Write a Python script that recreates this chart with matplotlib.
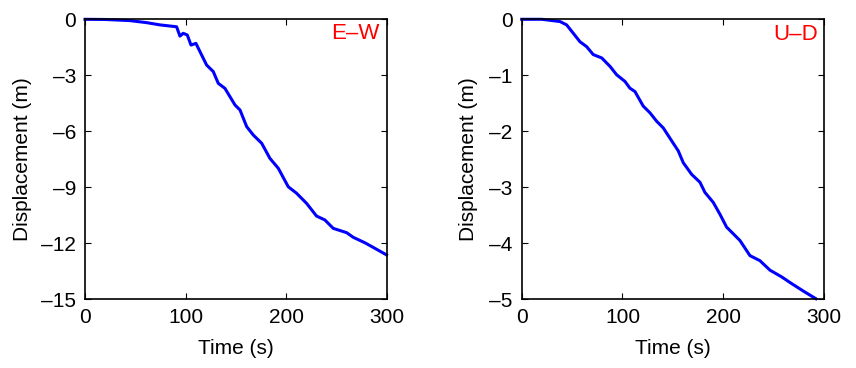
import numpy as np
import matplotlib.pyplot as plt

plt.rcParams['font.family'] = ['Liberation Sans', 'DejaVu Sans']

# E-W displacement (m)
ew_t = [0, 20, 44.7, 61.3, 74.5, 91, 94.3, 97.6, 101.6, 105.3, 110.2, 114.2, 120.8,
        127.4, 132.4, 139, 149, 154, 160.6, 167.2, 175.5, 183.7, 192, 201.9, 210.2,
        220.1, 230, 238.3, 246.6, 259.9, 266.5, 278, 288, 299.5]
ew_d = [0, -0.01, -0.07, -0.18, -0.3, -0.4, -0.9, -0.75, -0.84, -1.38, -1.29, -1.73, -2.45,
        -2.8, -3.43, -3.7, -4.59, -4.86, -5.75, -6.2, -6.64, -7.45, -7.98, -8.97, -9.32,
        -9.86, -10.54, -10.75, -11.2, -11.43, -11.68, -11.97, -12.27, -12.62]

# U-D displacement (m)
ud_t = [0, 20, 38, 44.6, 51.2, 57.8, 64.5, 71, 79.4, 87.6, 94.2, 102.5, 107.4, 112.4,
        120.6, 127.3, 133.9, 140.5, 148.8, 155.4, 160.3, 168.7, 176.9, 181.8, 190.1,
        196.7, 203.3, 216.6, 226.5, 236.4, 246.4, 258, 267.9, 281, 292]
ud_d = [0, 0, -0.04, -0.1, -0.25, -0.4, -0.49, -0.63, -0.69, -0.84, -0.99, -1.11, -1.23, -1.29,
        -1.55, -1.67, -1.82, -1.94, -2.17, -2.35, -2.56, -2.77, -2.91, -3.09, -3.27,
        -3.48, -3.71, -3.95, -4.22, -4.31, -4.48, -4.6, -4.72, -4.87, -4.99]

fig = plt.figure(figsize=(8.56, 3.68), dpi=100)
ax1 = fig.add_axes([85/856, 68.7/368, 302/856, 280/368])
ax2 = fig.add_axes([521.7/856, 68.7/368, 302.3/856, 280/368])

panels = [
    (ax1, ew_t, ew_d, 'E\u2013W', (-15, 0), np.arange(-15, 1, 3), -0.1755, (0.896, 0.95)),
    (ax2, ud_t, ud_d, 'U\u2013D', (-5, 0), np.arange(-5, 1, 1), -0.1446, (0.907, 0.946)),
]

for ax, t, d, name, ylim, yt, ylab_x, txt_xy in panels:
    ax.plot(t, d, color='#0000ff', lw=2.2, clip_on=False)
    ax.set_xlim(0, 300)
    ax.set_ylim(*ylim)
    ax.set_xticks([0, 100, 200, 300])
    ax.set_yticks(yt)
    ax.set_yticklabels([str(v).replace('-', '\u2013') for v in yt])
    ax.tick_params(direction='in', length=4, width=0.8, top=True, right=True,
                   labelsize=15, pad=6.5)
    for s in ax.spines.values():
        s.set_linewidth(1.2)
    ax.set_xlabel('Time (s)', fontsize=15)
    ax.xaxis.set_label_coords(0.5, -0.143)
    ax.set_ylabel('Displacement (m)', fontsize=15)
    ax.yaxis.set_label_coords(ylab_x, 0.5)
    ax.text(txt_xy[0], txt_xy[1], name, transform=ax.transAxes, color='red',
            fontsize=16, ha='center', va='center')

fig.savefig('out.png', dpi=100)
